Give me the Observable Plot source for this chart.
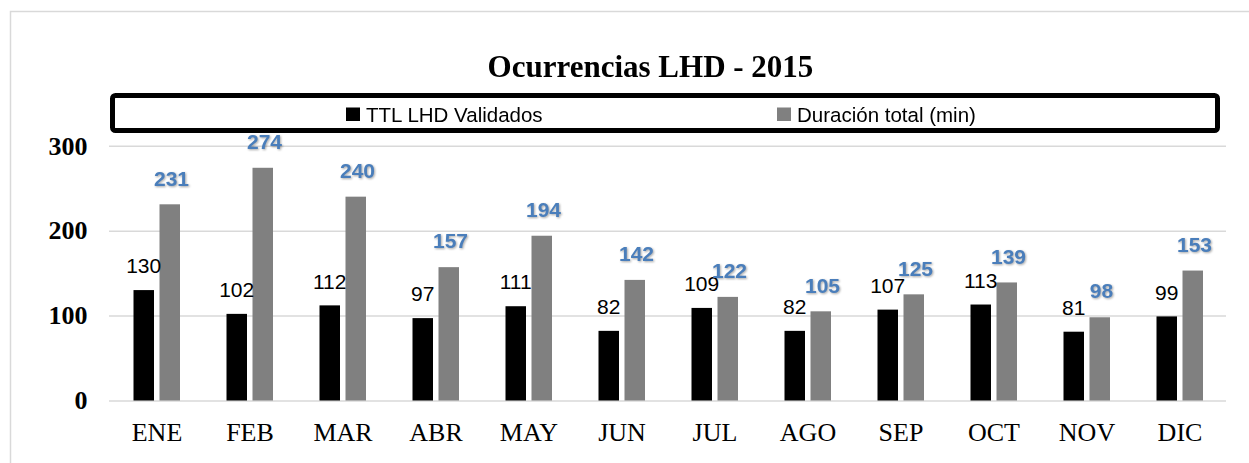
<!DOCTYPE html>
<html>
<head>
<meta charset="utf-8">
<script src="https://cdn.jsdelivr.net/npm/d3@7"></script>
<script src="https://cdn.jsdelivr.net/npm/@observablehq/plot@0.6"></script>
<style>
  body { margin: 0; background: white; }
  #chart svg { display: block; }
</style>
</head>
<body>
<div id="chart"></div>
<script>
const months = ["ENE","FEB","MAR","ABR","MAY","JUN","JUL","AGO","SEP","OCT","NOV","DIC"];
const seriesNames = ["TTL LHD Validados", "Duración total (min)"];
const validados = [130, 102, 112, 97, 111, 82, 109, 82, 107, 113, 81, 99];
const duracion = [231, 274, 240, 157, 194, 142, 122, 105, 125, 139, 98, 153];
const yTicks = [0, 100, 200, 300];
const titleText = "Ocurrencias LHD - 2015";

const colors = ["#000000", "#808080"];
const blue = "#4A7EBB";

const dataA = months.map((m, i) => ({month: m, value: validados[i]}));
const dataB = months.map((m, i) => ({month: m, value: duracion[i]}));

const W = 1249, H = 463;

const chart = Plot.plot({
  width: W,
  height: H,
  marginLeft: 109,
  marginRight: 23,
  marginTop: 145.7,
  marginBottom: 62.5,
  style: {fontFamily: "Liberation Serif", background: "white"},
  x: {domain: months, padding: 0, label: null},
  y: {domain: [0, 300], label: null},
  marks: [
    Plot.ruleY(yTicks, {stroke: "#d9d9d9", strokeWidth: 1.5}),
    Plot.barY(dataA, {x: "month", y: "value", fill: colors[0], insetLeft: 23.5, insetRight: 49}),
    Plot.barY(dataB, {x: "month", y: "value", fill: colors[1], insetLeft: 49.5, insetRight: 23}),
    Plot.text(dataA, {x: "month", y: "value", text: d => String(d.value), dx: -13.3, dy: -24,
      fontFamily: "Liberation Sans", fontSize: 21, fill: "#000"}),
    Plot.text(dataB, {x: "month", y: "value", text: d => String(d.value), dx: 14.5, dy: -26,
      fontFamily: "Liberation Sans", fontSize: 21, fontWeight: "bold", fill: blue}),
    Plot.axisY({ticks: yTicks, tickSize: 0, tickPadding: 22, fontSize: 26, fontWeight: "bold",
      fontFamily: "Liberation Serif", fill: "#000", label: null}),
    Plot.axisX({tickSize: 0, tickPadding: 22, fontSize: 26, fontFamily: "Liberation Serif",
      fill: "#000", label: null})
  ]
});

document.getElementById("chart").appendChild(chart);

// Soft shadow on the blue value labels (as in the reference)
d3.select(chart).selectAll("g[aria-label='text']")
  .filter(function() { return (this.getAttribute("fill") || "").toLowerCase() === blue.toLowerCase(); })
  .style("filter", "drop-shadow(1px 1.5px 1px rgba(0,0,0,0.35))");

// Decorations: outer frame, title, legend
const svg = d3.select(chart);
svg.insert("rect", ":first-child")
  .attr("x", 10.5).attr("y", 11.5).attr("width", 1400).attr("height", 600)
  .attr("fill", "none").attr("stroke", "#d9d9d9").attr("stroke-width", 1.5);

svg.append("text")
  .attr("x", 650.5).attr("y", 77)
  .attr("text-anchor", "middle")
  .attr("font-family", "Liberation Serif")
  .attr("font-weight", "bold")
  .attr("font-size", 31)
  .attr("fill", "#000")
  .text(titleText);

const legend = svg.append("g").attr("text-anchor", "start");
legend.append("rect")
  .attr("x", 112.5).attr("y", 95.5).attr("width", 1105).attr("height", 35)
  .attr("rx", 3).attr("fill", "white").attr("stroke", "#000").attr("stroke-width", 5);

const legendX = [346, 777];
seriesNames.forEach((name, i) => {
  legend.append("rect")
    .attr("x", legendX[i]).attr("y", 107.5).attr("width", 14).attr("height", 13.5)
    .attr("fill", colors[i]);
  legend.append("text")
    .attr("x", legendX[i] + 20).attr("y", 114.5)
    .attr("text-anchor", "start")
    .attr("dominant-baseline", "central")
    .attr("font-family", "Liberation Sans")
    .attr("font-size", 20.5)
    .attr("fill", "#000")
    .text(name);
});
</script>
</body>
</html>
